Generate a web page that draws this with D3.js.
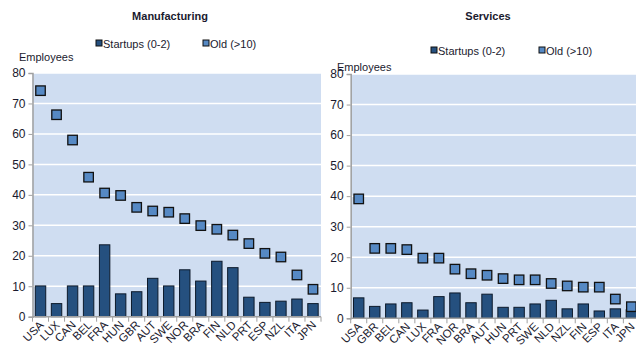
<!DOCTYPE html>
<html><head><meta charset="utf-8">
<script src="https://cdn.jsdelivr.net/npm/d3@7"></script>
<style>
body{margin:0;background:#fff;}
text{font-family:"Liberation Sans",Arial,sans-serif;}
</style></head>
<body><svg id="c" width="636" height="353"></svg>
<script>
// Manufacturing: employees per firm by age class
const mfgCountries = ["USA","LUX","CAN","BEL","FRA","HUN","GBR","AUT","SWE","NOR","BRA","FIN","NLD","PRT","ESP","NZL","ITA","JPN"];
const mfgStartups  = [10.1,4.3,10.1,10.1,23.6,7.5,8.2,12.6,10.1,15.4,11.7,18.2,16.1,6.4,4.7,5.1,5.8,4.3];
const mfgOld       = [74.2,66.3,58.0,45.8,40.6,39.8,35.9,34.7,34.3,32.2,29.9,28.7,26.8,24.0,20.8,19.6,13.7,9.0];

// Services: employees per firm by age class
const svcCountries = ["USA","GBR","BEL","CAN","LUX","FRA","NOR","BRA","AUT","HUN","PRT","SWE","NLD","NZL","FIN","ESP","ITA","JPN"];
const svcStartups  = [6.7,3.9,4.7,5.1,2.7,7.1,8.3,5.1,7.9,3.6,3.6,4.7,5.9,3.1,4.7,2.4,3.1,2.8];
const svcOld       = [39.1,22.9,22.9,22.5,19.7,19.7,16.1,14.6,14.1,13.0,12.6,12.6,11.4,10.6,10.2,10.2,6.3,3.8];

const yTicks = [0,10,20,30,40,50,60,70,80];
const seriesNames = ["Startups (0-2)","Old (>10)"];

const barColor = "#25507f", markerColor = "#5689c4", plotBg = "#cfddf1";
const textColor = "#1a1a2e", axisColor = "#a0a0a0";

const svg = d3.select("#c");

function panel(cfg){
  const g = svg.append("g");
  const x = d3.scaleBand().domain(cfg.countries).range([cfg.x0, cfg.x1]).paddingInner(0.35).paddingOuter(0.175);
  const xb = d3.scaleBand().domain(cfg.countries).range([cfg.x0, cfg.x1]);
  const y = d3.scaleLinear().domain([0,80]).range([cfg.y0, cfg.y1]);

  // plot background
  g.append("rect").attr("x",cfg.x0).attr("y",cfg.y1).attr("width",cfg.x1-cfg.x0).attr("height",cfg.y0-cfg.y1).attr("fill",plotBg);

  // gridlines
  g.selectAll(".grid").data(yTicks.filter(d=>d>0)).join("line")
    .attr("x1",cfg.x0).attr("x2",cfg.x1).attr("y1",d=>y(d)).attr("y2",d=>y(d))
    .attr("stroke","#fff").attr("stroke-width",1.5);

  // bars
  g.selectAll(".bar").data(cfg.startups).join("rect")
    .attr("x",(d,i)=>x(cfg.countries[i])).attr("width",x.bandwidth())
    .attr("y",d=>y(d)).attr("height",d=>y(0)-y(d))
    .attr("fill",barColor).attr("stroke","#0d1a2b").attr("stroke-width",1);

  // old-firm markers
  const ms = 9.5;
  g.selectAll(".mk").data(cfg.old).join("rect")
    .attr("x",(d,i)=>xb(cfg.countries[i])+xb.bandwidth()/2-ms/2)
    .attr("y",d=>y(d)-ms/2).attr("width",ms).attr("height",ms)
    .attr("fill",markerColor).attr("stroke","#111").attr("stroke-width",1.3);

  // y axis
  const ya = g.append("g").attr("transform",`translate(${cfg.x0},0)`)
    .call(d3.axisLeft(y).tickValues(yTicks).tickSize(4).tickPadding(3));
  ya.select(".domain").attr("stroke",axisColor).attr("stroke-width",1.5);
  ya.selectAll(".tick line").attr("stroke",axisColor);
  ya.selectAll("text").attr("font-size",12).attr("fill",textColor).attr("font-family","Liberation Sans, Arial, sans-serif");

  // x axis: ticks between categories
  const xa = g.append("g").attr("transform",`translate(0,${cfg.y0})`);
  xa.append("line").attr("x1",cfg.x0).attr("x2",cfg.x1).attr("stroke",axisColor).attr("stroke-width",1.5);
  xa.selectAll(".xt").data(d3.range(cfg.countries.length+1)).join("line")
    .attr("x1",i=>cfg.x0+i*xb.bandwidth()).attr("x2",i=>cfg.x0+i*xb.bandwidth())
    .attr("y1",0).attr("y2",5).attr("stroke",axisColor);
  xa.selectAll(".xl").data(cfg.countries).join("text")
    .attr("transform",d=>`translate(${xb(d)+xb.bandwidth()/2+4},${9}) rotate(-45)`)
    .attr("text-anchor","end").attr("font-size",11.5).attr("fill",textColor).text(d=>d);

  // title
  g.append("text").attr("x",cfg.titleX).attr("y",20).attr("text-anchor","middle")
    .attr("font-size",11).attr("font-weight","bold").attr("fill",textColor).text(cfg.title);

  // axis label
  g.append("text").attr("x",cfg.labX).attr("y",cfg.labY).attr("font-size",11).attr("fill",textColor).text("Employees");

  // legend
  const cols = [barColor, markerColor];
  seriesNames.forEach((s,i)=>{
    const lx = cfg.legX[i];
    g.append("rect").attr("x",lx).attr("y",cfg.legY-8).attr("width",6).attr("height",6)
      .attr("fill",cols[i]).attr("stroke","#111").attr("stroke-width",1);
    g.append("text").attr("x",lx+7).attr("y",cfg.legY).attr("font-size",11).attr("fill",textColor).text(s);
  });
}

panel({countries:mfgCountries, startups:mfgStartups, old:mfgOld,
  x0:32.5, x1:321, y0:316.7, y1:73, title:"Manufacturing", titleX:170,
  labX:19, labY:61, legX:[96,203], legY:48});
panel({countries:svcCountries, startups:svcStartups, old:svcOld,
  x0:350.7, x1:639.4, y0:318.3, y1:74, title:"Services", titleX:488,
  labX:337, labY:71, legX:[431,539], legY:55});
</script></body></html>
